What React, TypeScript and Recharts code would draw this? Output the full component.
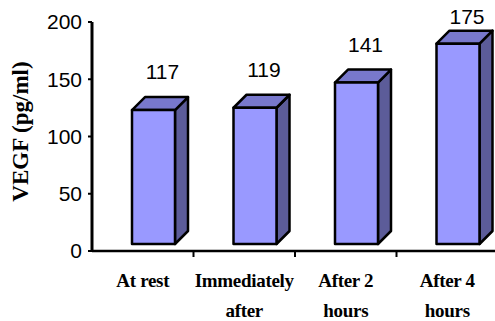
import { BarChart, Bar, XAxis, YAxis, LabelList } from "recharts";

const categories = ["At rest", "Immediately after", "After 2 hours", "After 4 hours"];
const categoryLines = [["At rest"], ["Immediately", "after"], ["After 2", "hours"], ["After 4", "hours"]];
const vegf = [117, 119, 141, 175];
const yTicks = [0, 50, 100, 150, 200];

const data = categories.map((name, i) => ({ name, vegf: vegf[i] }));

// layout
const W = 500;
const H = 321;
const TOP = 22;
const LEFT = 92;
const RIGHT = 2;
const XAXIS_H = 70;
const PLOT_W = W - LEFT - RIGHT;
const AXIS_Y = H - XAXIS_H;
const BAND = PLOT_W / categories.length;

// 3d look
const DX = 11;
const DY = 7;
const DEPTH = 13;
const FRONT = "#9999ff";
const TOPFACE = "#7878cc";
const SIDE = "#5c5c99";

function Bar3D(props: any) {
  const { x, y, width, height } = props;
  const fx = x + DX;
  const fy = y - DY;
  const bot = fy + height;
  const d = DEPTH;
  const stroke = { stroke: "#000", strokeWidth: 2.5, strokeLinejoin: "round" as const };
  return (
    <g>
      <polygon
        points={`${fx + width},${fy} ${fx + width + d},${fy - d} ${fx + width + d},${bot - d} ${fx + width},${bot}`}
        fill={SIDE}
        {...stroke}
      />
      <polygon
        points={`${fx},${fy} ${fx + d},${fy - d} ${fx + width + d},${fy - d} ${fx + width},${fy}`}
        fill={TOPFACE}
        {...stroke}
      />
      <rect x={fx} y={fy} width={width} height={height} fill={FRONT} {...stroke} />
    </g>
  );
}

function ValueLabel(props: any) {
  const { x, y, width, value } = props;
  const base = Math.max(y - DY - 31, 24);
  return (
    <text
      x={x + width / 2 + 20}
      y={base}
      textAnchor="middle"
      fontFamily="'Liberation Sans', Arial, sans-serif"
      fontSize={21}
      fill="#000"
    >
      {value}
    </text>
  );
}

function CatTick(props: any) {
  const { x, index } = props;
  const lines = categoryLines[index] || [];
  return (
    <g>
      <line x1={x + BAND / 2} y1={AXIS_Y} x2={x + BAND / 2} y2={AXIS_Y + 6} stroke="#000" strokeWidth={2} />
      {lines.map((l, i) => (
        <text
          key={i}
          x={x}
          y={AXIS_Y + 36 + i * 30}
          textAnchor="middle"
          fontFamily="'Liberation Serif', 'Times New Roman', serif"
          fontWeight="bold"
          fontSize={19}
          letterSpacing={-0.3}
          fill="#000"
        >
          {l}
        </text>
      ))}
    </g>
  );
}

export default function App() {
  return (
    <div style={{ position: "absolute", left: 0, top: 0, width: 495, height: 321, overflow: "hidden", background: "#fff" }}>
      <BarChart width={W} height={H} data={data} margin={{ top: TOP, right: RIGHT, bottom: 0, left: 0 }}>
        <XAxis
          dataKey="name"
          tick={<CatTick />}
          tickLine={false}
          axisLine={{ stroke: "#000", strokeWidth: 2.5 }}
          interval={0}
          height={XAXIS_H}
        />
        <YAxis
          width={LEFT}
          domain={[0, 200]}
          ticks={yTicks}
          interval={0}
          tickSize={4}
          tickMargin={6}
          axisLine={{ stroke: "#000", strokeWidth: 3 }}
          tickLine={{ stroke: "#000", strokeWidth: 2 }}
          tick={{ fill: "#000", fontSize: 21, fontFamily: "'Liberation Sans', Arial, sans-serif" }}
        />
        <Bar dataKey="vegf" barSize={43} shape={<Bar3D />} isAnimationActive={false}>
          <LabelList dataKey="vegf" content={<ValueLabel />} />
        </Bar>
        <text
          x={28}
          y={131.5}
          transform="rotate(-90, 28, 131.5)"
          textAnchor="middle"
          fontFamily="'Liberation Serif', 'Times New Roman', serif"
          fontWeight="bold"
          fontSize={23}
          fill="#000"
        >
          VEGF (pg/ml)
        </text>
      </BarChart>
    </div>
  );
}
